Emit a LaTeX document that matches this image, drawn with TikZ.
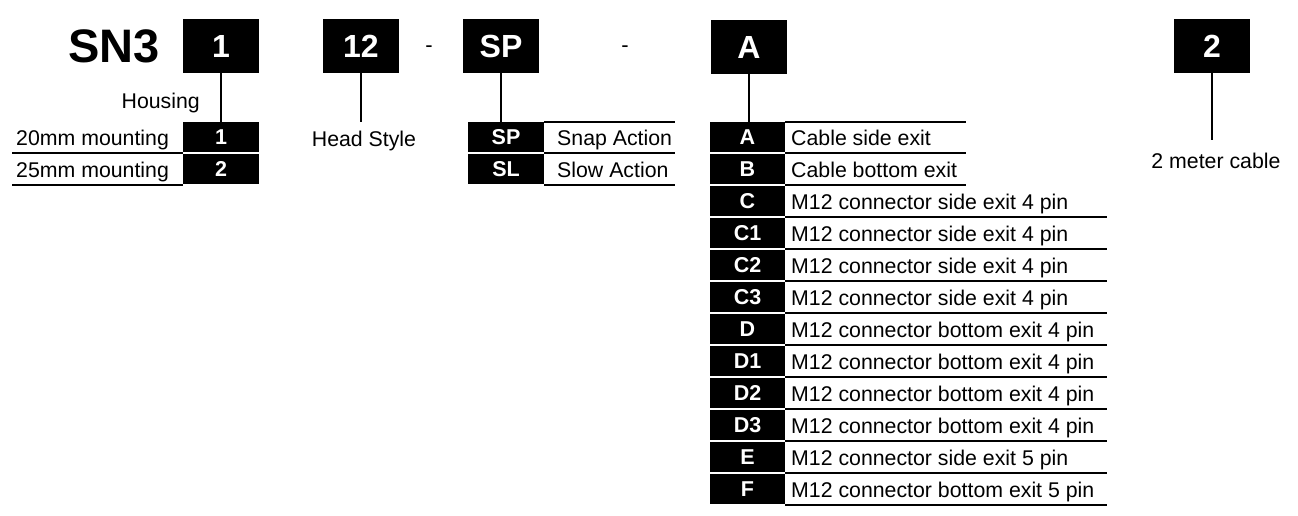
\documentclass[tikz,border=0pt]{standalone}
\usepackage{fontspec}
\setmainfont{Liberation Sans}
\usetikzlibrary{positioning}

\begin{document}
\begin{tikzpicture}[x=1pt, y=-1pt,
  code/.style={fill=black, text=white, minimum width=76pt, minimum height=54pt, inner sep=0pt, font=\fontsize{32}{32}\selectfont\bfseries},
  opt/.style={fill=black, text=white, minimum width=76pt, minimum height=30pt, inner sep=0pt, font=\fontsize{21.5}{21.5}\selectfont\bfseries},
  lbl/.style={inner sep=0pt, font=\fontsize{21.3}{21.3}\selectfont},
  link/.style={line width=2pt},
  rule/.style={line width=2pt}
]
  \useasboundingbox (0,0) rectangle (1298,515);

  \node[inner sep=0pt, anchor=base, font=\fontsize{47}{47}\selectfont\bfseries] (sn) at (114,62) {SN3};
  \node[code] (b1) at (221,46) {1};
  \node[code] (b12) at (361,46) {12};
  \node[lbl, anchor=base, font=\fontsize{22}{22}\selectfont] (d1) at (429,52) {-};
  \node[code] (bsp) at (501,46) {SP};
  \node[lbl, anchor=base, font=\fontsize{22}{22}\selectfont] (d2) at (625,52) {-};
  \node[code] (ba) at (749,47) {A};
  \node[code] (b2) at (1212,46) {2};

  % housing
  \node[lbl, anchor=base east] (hous) at (200,108) {Housing};
  \node[opt] (h1) at (221,137) {1};
  \node[opt] (h2) at (221,169) {2};
  \node[lbl, anchor=base west] (ht1) at (16,145) {20mm mounting};
  \node[lbl, anchor=base west] (ht2) at (16,177) {25mm mounting};
  \draw[link] (b1) -- (h1);
  \foreach \i in {1,2}
    \draw[rule] (h\i.south west) ++(0,1) -- ++(-171,0);

  % head style
  \node[lbl, anchor=base] (hs) at (364,146) {Head Style};
  \draw[link, shorten >=8pt] (b12.south) -- (b12.south |- hs.north);

  % action
  \node[opt] (s1) at (506,137) {SP};
  \node[opt] (s2) at (506,169) {SL};
  \node[lbl, anchor=base west] (st1) at (557,145) {Snap Action};
  \node[lbl, anchor=base west] (st2) at (557,177) {Slow Action};
  \draw[link] (bsp.south) -- (bsp.south |- s1.north);
  \draw[rule] (s1.north east) -- ++(131,0);
  \foreach \i in {1,2}
    \draw[rule] (s\i.south east) ++(0,1) -- ++(131,0);

  % exit
  \foreach \c/\t [count=\i from 0] in {A/Cable side exit, B/Cable bottom exit,
      C/M12 connector side exit 4 pin, C1/M12 connector side exit 4 pin,
      C2/M12 connector side exit 4 pin, C3/M12 connector side exit 4 pin,
      D/M12 connector bottom exit 4 pin, D1/M12 connector bottom exit 4 pin,
      D2/M12 connector bottom exit 4 pin, D3/M12 connector bottom exit 4 pin,
      E/M12 connector side exit 5 pin, F/M12 connector bottom exit 5 pin} {
    \node[opt, minimum width=75pt] (a\i) at (747.5,{137+32*\i}) {\c};
    \node[lbl, anchor=base west] (at\i) at (791,{145+32*\i}) {\t};
    \pgfmathsetmacro\len{\i<2 ? 181 : 322}
    \draw[rule] (a\i.south east) ++(0,1) -- ++(\len,0);
  }
  \draw[link] (ba.south) -- (ba.south |- a0.north);
  \draw[rule] (a0.north east) -- ++(181,0);

  % cable
  \node[lbl, anchor=base] (cab) at (1216,168) {2 meter cable};
  \draw[link, shorten >=12.5pt] (b2.south) -- (b2.south |- cab.north);
\end{tikzpicture}
\end{document}
